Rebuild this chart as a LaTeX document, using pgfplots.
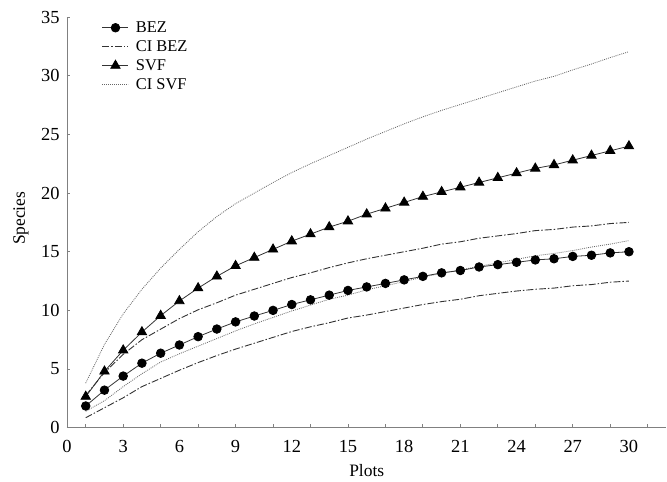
\documentclass[border=0pt]{standalone}
\usepackage{fontspec}
\setmainfont{Liberation Serif}
\usepackage{pgfplots}
\pgfplotsset{compat=1.18}
\usepackage{pgfplotstable}

\pgfplotstableread{
x bez bezlo bezhi svf svflo svfhi
1 1.85 0.85 2.75 2.65 1.40 3.80
2 3.20 1.70 4.70 4.80 2.30 7.10
3 4.40 2.55 6.25 6.60 3.50 9.70
4 5.50 3.50 7.50 8.15 4.60 11.80
5 6.35 4.20 8.40 9.55 5.60 13.60
6 7.05 4.90 9.30 10.80 6.30 15.20
7 7.76 5.55 10.05 11.90 6.95 16.70
8 8.41 6.15 10.65 12.90 7.60 18.00
9 9.02 6.70 11.30 13.80 8.25 19.10
10 9.52 7.20 11.80 14.50 8.85 20.00
11 10.00 7.70 12.30 15.20 9.40 20.90
12 10.50 8.20 12.80 15.90 9.95 21.75
13 10.90 8.60 13.20 16.50 10.45 22.50
14 11.30 8.95 13.65 17.10 10.95 23.20
15 11.70 9.35 14.05 17.60 11.30 23.90
16 12.00 9.60 14.40 18.20 11.75 24.60
17 12.30 9.90 14.70 18.70 12.10 25.25
18 12.60 10.20 15.00 19.20 12.45 25.90
19 12.90 10.50 15.30 19.70 12.85 26.50
20 13.20 10.75 15.65 20.10 13.15 27.05
21 13.40 10.95 15.85 20.50 13.45 27.55
22 13.70 11.25 16.15 20.90 13.75 28.05
23 13.90 11.45 16.35 21.30 14.05 28.55
24 14.10 11.65 16.55 21.70 14.35 29.05
25 14.30 11.80 16.80 22.10 14.65 29.55
26 14.40 11.90 16.90 22.40 14.85 29.95
27 14.60 12.10 17.10 22.80 15.10 30.50
28 14.70 12.20 17.20 23.20 15.40 31.00
29 14.90 12.40 17.40 23.60 15.65 31.55
30 15.00 12.50 17.50 24.00 15.95 32.05
}\data

\pgfplotsset{
  bezstyle/.style={black!80, line width=0.8bp, mark=*, mark size=4.3bp, mark options={solid, fill=black, draw=black}},
  svfstyle/.style={black!80, line width=0.8bp, mark=triangle*, mark size=5.4bp, mark options={solid, fill=black, draw=black}},
  cibez/.style={black!80, line width=0.9bp, dash pattern=on 7bp off 2bp on 1.5bp off 2bp, mark=none},
  cisvf/.style={black!60, line width=0.8bp, dash pattern=on 0.9bp off 1.1bp, mark=none},
}

\begin{document}
\begin{tikzpicture}
\begin{axis}[
  name=ax,
  scale only axis,
  width=599.4bp, height=410.6bp,
  xmin=0, xmax=32, ymin=0, ymax=35,
  axis lines*=left,
  axis line style={draw=black!50, line width=0.8bp},
  tick align=inside,
  xtick={0,3,...,30},
  minor xtick={1,3,...,31},
  ytick={0,5,...,35},
  major tick length=3.5bp,
  minor tick length=3.5bp,
  major x tick style={draw=none},
  minor x tick style={draw=black!50, line width=0.8bp},
  y tick style={draw=black!50, line width=0.8bp},
  /pgf/number format/assume math mode=true,
  tick label style={font=\fontsize{18.5}{21}\selectfont, text=black},
  xticklabel style={yshift=-9.5bp},
  yticklabel style={xshift=-4bp},
  xlabel={Plots}, ylabel={Species},
  label style={font=\fontsize{17.5}{20}\selectfont},
  xlabel style={at={(axis description cs:0.5,-0.119)}, anchor=base, inner sep=0pt},
  ylabel style={at={(axis description cs:-0.0767,0.51)}, anchor=center},
  legend style={draw=none, fill=none, at={(axis cs:1.7,34.97)}, anchor=north west,
    font=\fontsize{16.5}{19}\selectfont, row sep=2.6bp,
    /tikz/every odd column/.append style={column sep=5bp}},
  legend cell align=left,
  legend image code/.code={
    \draw[#1, mark repeat=2, mark phase=2] plot coordinates {(0bp,0bp) (13bp,0bp) (26bp,0bp)};
  },
]
\addlegendimage{bezstyle}\addlegendentry{BEZ}
\addlegendimage{cibez}\addlegendentry{CI BEZ}
\addlegendimage{svfstyle}\addlegendentry{SVF}
\addlegendimage{cisvf}\addlegendentry{CI SVF}

\addplot[cisvf, forget plot] table[x=x, y=svfhi] {\data};
\addplot[cisvf, forget plot] table[x=x, y=svflo] {\data};
\addplot[cibez, forget plot] table[x=x, y=bezhi] {\data};
\addplot[cibez, forget plot] table[x=x, y=bezlo] {\data};
\addplot[svfstyle, forget plot] table[x=x, y=svf] {\data};
\addplot[bezstyle, forget plot] table[x=x, y=bez] {\data};
\end{axis}
\pgfresetboundingbox
\path (ax.south west) ++(-67bp,-54.3bp) coordinate (bl);
\path[use as bounding box] (bl) rectangle ++(667bp,482bp);
\end{tikzpicture}
\end{document}
